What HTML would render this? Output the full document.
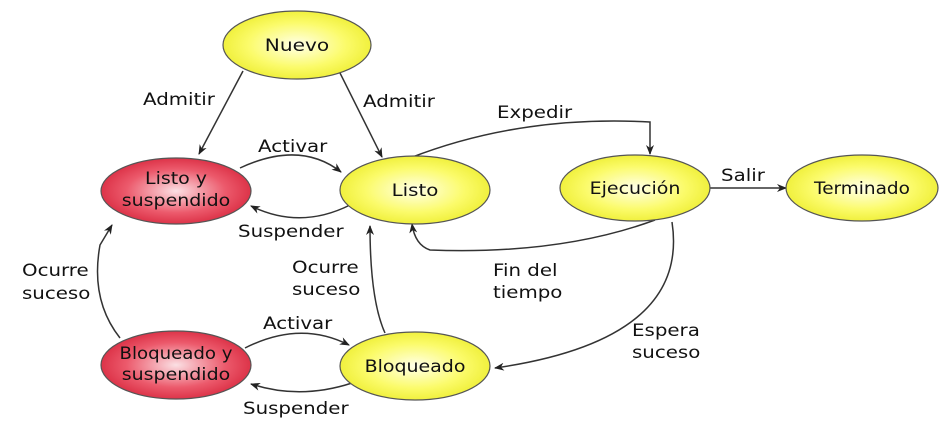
<!DOCTYPE html>
<html><head><meta charset="utf-8"><style>
html,body{margin:0;padding:0;background:#fff;}
svg{display:block;}
text{font-family:"DejaVu Sans","Liberation Sans",sans-serif;font-size:16.5px;fill:#111;}
</style></head><body>
<svg width="951" height="436" viewBox="0 0 951 436" xmlns="http://www.w3.org/2000/svg">
<defs>
<radialGradient id="y" cx="50%" cy="50%" r="55%"><stop offset="0" stop-color="#ffffe8"/><stop offset="0.6" stop-color="#fbfb6a"/><stop offset="1" stop-color="#eded30"/></radialGradient>
<radialGradient id="r" cx="50%" cy="50%" r="55%"><stop offset="0" stop-color="#fbe0e4"/><stop offset="0.6" stop-color="#ec5a6c"/><stop offset="1" stop-color="#d8283e"/></radialGradient>
<marker id="a" markerWidth="10" markerHeight="8" refX="9" refY="4" orient="auto" markerUnits="userSpaceOnUse"><path d="M0,0 L10,4 L0,8 L3,4 z" fill="#222"/></marker>
</defs>
<g stroke="#333" stroke-width="1.5" fill="none" marker-end="url(#a)">
<path d="M243,71 L199,154"/>
<path d="M340,73 L382,157"/>
<path d="M240,168 Q300,140 341,172"/>
<path d="M350,205 Q300,230 251,206"/>
<path d="M410,158 Q520,115 650,122 L650,154"/>
<path d="M710,188 L786,188"/>
<path d="M655,220 Q560,255 430,250 Q415,245 412,224"/>
<path d="M672,222 Q690,340 495,368"/>
<path d="M385,333 Q370,300 370,226"/>
<path d="M120,338 Q90,300 100,245 L112,225"/>
<path d="M245,348 Q300,320 349,345"/>
<path d="M352,383 Q300,400 251,384"/>
</g>
<g stroke="#555" stroke-width="1.2">
<ellipse cx="297" cy="45" rx="74" ry="34" fill="url(#y)"/>
<ellipse cx="176" cy="191" rx="75" ry="33" fill="url(#r)"/>
<ellipse cx="415" cy="190" rx="75" ry="34" fill="url(#y)"/>
<ellipse cx="635" cy="188" rx="75" ry="33" fill="url(#y)"/>
<ellipse cx="862" cy="188" rx="76" ry="33" fill="url(#y)"/>
<ellipse cx="176" cy="365" rx="75" ry="34" fill="url(#r)"/>
<ellipse cx="415" cy="366" rx="75" ry="34" fill="url(#y)"/>
</g>
<g text-anchor="middle">
<g transform="translate(297,51) scale(1.22,1)"><text>Nuevo</text></g>
<g transform="translate(176,184) scale(1.15,1)"><text>Listo y</text></g>
<g transform="translate(176,206) scale(1.15,1)"><text>suspendido</text></g>
<g transform="translate(415,196) scale(1.2,1)"><text>Listo</text></g>
<g transform="translate(635,194) scale(1.15,1)"><text>Ejecución</text></g>
<g transform="translate(862,194) scale(1.12,1)"><text>Terminado</text></g>
<g transform="translate(176,359) scale(1.1,1)"><text>Bloqueado y</text></g>
<g transform="translate(176,380) scale(1.15,1)"><text>suspendido</text></g>
<g transform="translate(415,372) scale(1.15,1)"><text>Bloqueado</text></g>
</g>
<g>
<g transform="translate(143,105) scale(1.2,1)"><text>Admitir</text></g>
<g transform="translate(363,107) scale(1.2,1)"><text>Admitir</text></g>
<g transform="translate(258,152) scale(1.2,1)"><text>Activar</text></g>
<g transform="translate(238,237) scale(1.2,1)"><text>Suspender</text></g>
<g transform="translate(497,118) scale(1.2,1)"><text>Expedir</text></g>
<g transform="translate(721,181) scale(1.2,1)"><text>Salir</text></g>
<g transform="translate(493,276) scale(1.2,1)"><text>Fin del</text></g>
<g transform="translate(493,298) scale(1.2,1)"><text>tiempo</text></g>
<g transform="translate(632,336) scale(1.2,1)"><text>Espera</text></g>
<g transform="translate(632,358) scale(1.2,1)"><text>suceso</text></g>
<g transform="translate(292,273) scale(1.2,1)"><text>Ocurre</text></g>
<g transform="translate(292,295) scale(1.2,1)"><text>suceso</text></g>
<g transform="translate(22,276) scale(1.2,1)"><text>Ocurre</text></g>
<g transform="translate(22,299) scale(1.2,1)"><text>suceso</text></g>
<g transform="translate(263,329) scale(1.2,1)"><text>Activar</text></g>
<g transform="translate(243,414) scale(1.2,1)"><text>Suspender</text></g>
</g>
</svg>
</body></html>
